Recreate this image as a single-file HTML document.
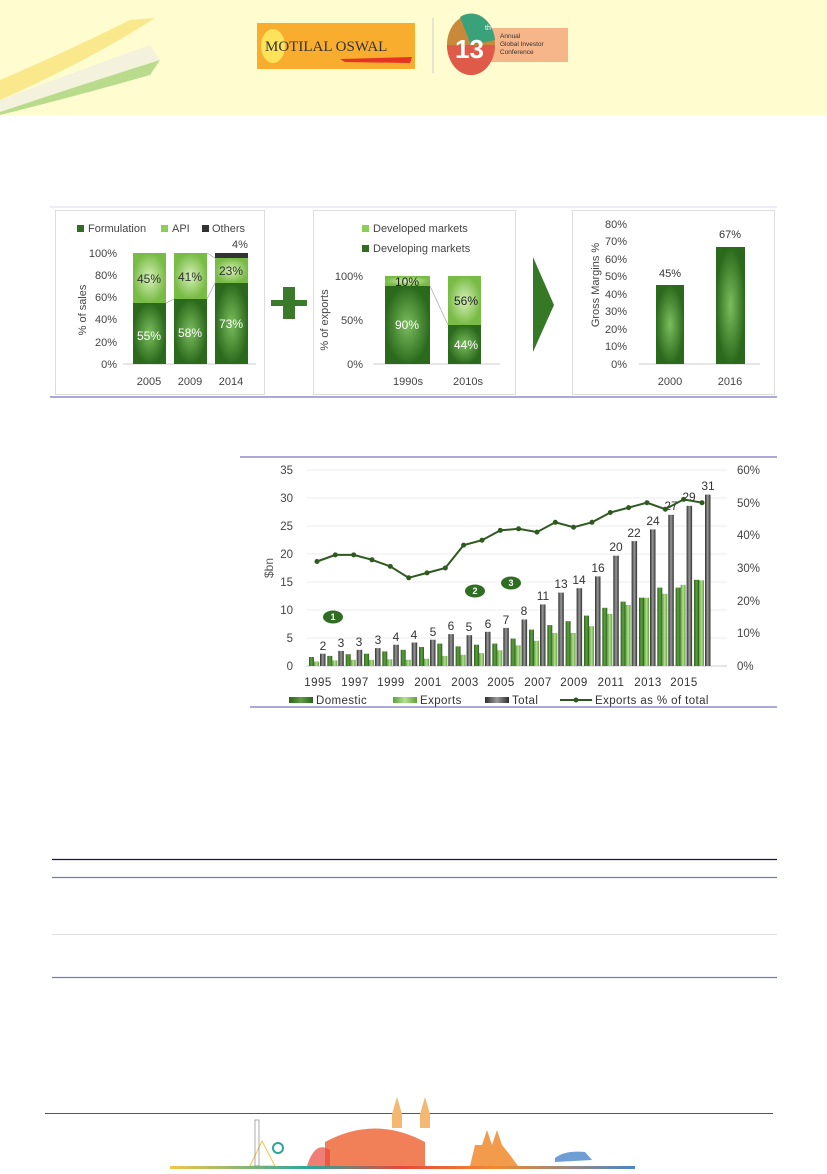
<!DOCTYPE html>
<html><head><meta charset="utf-8"><style>
html,body{margin:0;padding:0;background:#fff;}
body{width:827px;height:1169px;overflow:hidden;font-family:"Liberation Sans",sans-serif;}
svg text{font-family:"Liberation Sans",sans-serif;}
</style></head><body>
<svg width="827" height="1169" viewBox="0 0 827 1169" xmlns="http://www.w3.org/2000/svg">
<defs>
<linearGradient id="dg" x1="0" x2="1" y1="0" y2="0"><stop offset="0" stop-color="#2a6418"/><stop offset=".5" stop-color="#5f9e45"/><stop offset="1" stop-color="#2a6418"/></linearGradient>
<linearGradient id="eg" x1="0" x2="1" y1="0" y2="0"><stop offset="0" stop-color="#5ea336"/><stop offset=".5" stop-color="#b5df95"/><stop offset="1" stop-color="#5ea336"/></linearGradient>
<linearGradient id="tg" x1="0" x2="1" y1="0" y2="0"><stop offset="0" stop-color="#2e2e2e"/><stop offset=".5" stop-color="#9a9a9a"/><stop offset="1" stop-color="#2e2e2e"/></linearGradient>
<radialGradient id="rd"><stop offset="0" stop-color="#7bbd5e"/><stop offset="1" stop-color="#2b6a1c"/></radialGradient>
<radialGradient id="rl"><stop offset="0" stop-color="#d6f0b8"/><stop offset="1" stop-color="#78bb45"/></radialGradient>
<linearGradient id="hdr" x1="0" x2="1" y1="0" y2="1"><stop offset="0" stop-color="#f8d84a"/><stop offset=".5" stop-color="#fbf7dc"/><stop offset="1" stop-color="#8cc460"/></linearGradient>
<linearGradient id="city" x1="0" x2="1"><stop offset="0" stop-color="#f3c54a"/><stop offset=".3" stop-color="#2aa79a"/><stop offset=".5" stop-color="#e8483b"/><stop offset=".7" stop-color="#f08a2e"/><stop offset="1" stop-color="#4a86c8"/></linearGradient>
</defs>
<!-- header -->
<rect x="0" y="0" width="827" height="115" fill="#fffdd0"/>
<path d="M0 80 Q70 50 130 20 L155 18 Q90 60 0 100Z" fill="#f8e27a" opacity=".8"/>
<path d="M0 100 Q80 70 150 45 L160 60 Q80 85 0 112Z" fill="#f4f2dc"/>
<path d="M0 112 Q80 85 160 60 L150 75 Q80 95 0 115Z" fill="#a8d27a" opacity=".8"/>
<rect x="257" y="23" width="158" height="46" fill="#f9ad2e"/>
<ellipse cx="273" cy="46" rx="12" ry="17" fill="#fde35a"/>
<text x="265" y="51" font-size="15" font-family="Liberation Serif" fill="#333" style="font-family:'Liberation Serif',serif">MOTILAL OSWAL</text>
<path d="M340 59 L412 57 L410 63 L345 62Z" fill="#e53324"/>
<line x1="433" y1="18" x2="433" y2="73" stroke="#ccc"/>
<rect x="490" y="28" width="78" height="34" fill="#f7b58a"/>
<ellipse cx="471" cy="45" rx="24" ry="30" fill="#c88a3a"/>
<path d="M447 45 A24 30 0 0 0 495 45Z" fill="#e05a4a"/>
<path d="M460 17 A24 30 0 0 1 495 40 L471 45Z" fill="#3aa27a"/>
<text x="455" y="58" font-size="26" font-weight="bold" fill="#fff">13</text>
<text x="485" y="30" font-size="7" fill="#fff">th</text>
<text x="500" y="38" font-size="6.5" fill="#333">Annual</text>
<text x="500" y="46" font-size="6.5" fill="#333">Global Investor</text>
<text x="500" y="54" font-size="6.5" fill="#333">Conference</text>

<!-- top panels frame -->
<line x1="50" y1="207" x2="777" y2="207" stroke="#dcdaf0"/>
<line x1="50" y1="397" x2="777" y2="397" stroke="#7b73c4" stroke-width="1.2"/>
<rect x="55.5" y="210.5" width="209" height="184" fill="#fff" stroke="#ddd"/>
<rect x="313.5" y="210.5" width="202" height="184" fill="#fff" stroke="#ddd"/>
<rect x="572.5" y="210.5" width="202" height="184" fill="#fff" stroke="#ddd"/>

<!-- panel1 -->
<g font-size="11" fill="#444">
<rect x="77" y="225" width="7" height="7" fill="#2f6e22"/><text x="88" y="232">Formulation</text>
<rect x="161" y="225" width="7" height="7" fill="#8fcd5a"/><text x="172" y="232">API</text>
<rect x="202" y="225" width="7" height="7" fill="#333"/><text x="212" y="232">Others</text>
<text x="232" y="248" font-size="11">4%</text>
<g text-anchor="end"><text x="117" y="257">100%</text><text x="117" y="279">80%</text><text x="117" y="301">60%</text><text x="117" y="323">40%</text><text x="117" y="346">20%</text><text x="117" y="368">0%</text></g>
<text transform="translate(86,310) rotate(-90)" text-anchor="middle">% of sales</text>
<g text-anchor="middle"><text x="149" y="385">2005</text><text x="190" y="385">2009</text><text x="231" y="385">2014</text></g>
</g>
<line x1="123" y1="364" x2="256" y2="364" stroke="#ccc"/>
<rect x="133" y="253" width="33" height="50" fill="url(#rl)"/><rect x="133" y="303" width="33" height="61" fill="url(#rd)"/>
<rect x="174" y="253" width="33" height="46" fill="url(#rl)"/><rect x="174" y="299" width="33" height="65" fill="url(#rd)"/>
<rect x="215" y="253" width="33" height="5" fill="#333"/><rect x="215" y="258" width="33" height="25" fill="url(#rl)"/><rect x="215" y="283" width="33" height="81" fill="url(#rd)"/>
<path d="M166 303 L174 299 M207 299 L215 283 M207 253 L215 258" stroke="#999" stroke-width=".6"/>
<g font-size="12" text-anchor="middle"><text x="149" y="283" fill="#333">45%</text><text x="190" y="281" fill="#333">41%</text><text x="231" y="275" fill="#333">23%</text>
<text x="149" y="340" fill="#fff">55%</text><text x="190" y="337" fill="#fff">58%</text><text x="231" y="328" fill="#fff">73%</text></g>
<!-- plus -->
<path d="M283 287 h12 v13 h12 v6 h-12 v13 h-12 v-13 h-12 v-6 h12z" fill="#3a7a2a"/>

<!-- panel2 -->
<g font-size="11" fill="#444">
<rect x="362" y="225" width="7" height="7" fill="#8fcd5a"/><text x="373" y="232">Developed markets</text>
<rect x="362" y="245" width="7" height="7" fill="#2f6e22"/><text x="373" y="252">Developing markets</text>
<g text-anchor="end"><text x="363" y="280">100%</text><text x="363" y="324">50%</text><text x="363" y="368">0%</text></g>
<text transform="translate(328,320) rotate(-90)" text-anchor="middle">% of exports</text>
<g text-anchor="middle"><text x="408" y="385">1990s</text><text x="468" y="385">2010s</text></g>
</g>
<line x1="373" y1="364" x2="500" y2="364" stroke="#ccc"/>
<rect x="385" y="276" width="45" height="10" fill="url(#rl)"/><rect x="385" y="286" width="45" height="78" fill="url(#rd)"/>
<rect x="448" y="276" width="33" height="49" fill="url(#rl)"/><rect x="448" y="325" width="33" height="39" fill="url(#rd)"/>
<path d="M430 286 L448 325" stroke="#999" stroke-width=".6"/>
<g font-size="12" text-anchor="middle"><text x="407" y="286" fill="#222">10%</text><text x="407" y="329" fill="#fff">90%</text><text x="466" y="305" fill="#222">56%</text><text x="466" y="349" fill="#fff">44%</text></g>
<!-- arrow -->
<path d="M533 257 L554 305 L533 352Z" fill="#357826"/>

<!-- panel3 -->
<g font-size="11" fill="#444">
<g text-anchor="end"><text x="627" y="228">80%</text><text x="627" y="245">70%</text><text x="627" y="263">60%</text><text x="627" y="280">50%</text><text x="627" y="298">40%</text><text x="627" y="315">30%</text><text x="627" y="333">20%</text><text x="627" y="350">10%</text><text x="627" y="368">0%</text></g>
<text transform="translate(599,285) rotate(-90)" text-anchor="middle">Gross Margins %</text>
<g text-anchor="middle"><text x="670" y="385">2000</text><text x="730" y="385">2016</text></g>
<text x="670" y="277" text-anchor="middle" fill="#333">45%</text><text x="730" y="238" text-anchor="middle" fill="#333">67%</text>
</g>
<line x1="639" y1="364" x2="760" y2="364" stroke="#ccc"/>
<rect x="656" y="285" width="28" height="79" fill="url(#rd)"/>
<rect x="716" y="247" width="29" height="117" fill="url(#rd)"/>

<!-- chart 2 -->
<line x1="240" y1="457" x2="777" y2="457" stroke="#7b73c4" stroke-width="1.2"/>
<line x1="250" y1="707" x2="777" y2="707" stroke="#7b73c4" stroke-width="1.2"/>
<g stroke="#eee"><line x1="306" y1="470" x2="727" y2="470"/><line x1="306" y1="498" x2="727" y2="498"/><line x1="306" y1="526" x2="727" y2="526"/><line x1="306" y1="554" x2="727" y2="554"/><line x1="306" y1="582" x2="727" y2="582"/><line x1="306" y1="610" x2="727" y2="610"/><line x1="306" y1="638" x2="727" y2="638"/></g>
<line x1="306" y1="666" x2="727" y2="666" stroke="#ccc"/>
<g font-size="11.5" fill="#444" text-anchor="end"><text x="293" y="474">35</text><text x="293" y="502">30</text><text x="293" y="530">25</text><text x="293" y="558">20</text><text x="293" y="586">15</text><text x="293" y="614">10</text><text x="293" y="642">5</text><text x="293" y="670">0</text></g>
<g font-size="11.5" fill="#444"><text x="737" y="474">60%</text><text x="737" y="507">50%</text><text x="737" y="539">40%</text><text x="737" y="572">30%</text><text x="737" y="605">20%</text><text x="737" y="637">10%</text><text x="737" y="670">0%</text></g>
<text transform="translate(273,568) rotate(-90)" text-anchor="middle" font-size="12" fill="#555">$bn</text>
<g font-size="11.5" fill="#333" text-anchor="middle" letter-spacing=".5"><text x="318" y="686">1995</text><text x="355" y="686">1997</text><text x="391" y="686">1999</text><text x="428" y="686">2001</text><text x="465" y="686">2003</text><text x="501" y="686">2005</text><text x="538" y="686">2007</text><text x="574" y="686">2009</text><text x="611" y="686">2011</text><text x="648" y="686">2013</text><text x="684" y="686">2015</text></g>
<!-- domestic -->
<g fill="url(#dg)">
<rect x="309" y="657" width="5" height="9"/><rect x="327.3" y="655.9" width="5" height="10.1"/><rect x="345.7" y="654.2" width="5" height="11.8"/><rect x="364" y="653.7" width="5" height="12.3"/><rect x="382.3" y="651.4" width="5" height="14.6"/><rect x="400.7" y="649.8" width="5" height="16.2"/><rect x="419" y="647" width="5" height="19"/><rect x="437.3" y="643.6" width="5" height="22.4"/><rect x="455.6" y="646.4" width="5" height="19.6"/><rect x="474" y="644.7" width="5" height="21.3"/><rect x="492.3" y="643.6" width="5" height="22.4"/><rect x="510.6" y="638.6" width="5" height="27.4"/><rect x="529" y="629.6" width="5" height="36.4"/><rect x="547.3" y="625.1" width="5" height="40.9"/><rect x="565.6" y="621.2" width="5" height="44.8"/><rect x="584" y="615.6" width="5" height="50.4"/><rect x="602.3" y="607.8" width="5" height="58.2"/><rect x="620.6" y="601.6" width="5" height="64.4"/><rect x="639" y="597.7" width="5" height="68.3"/><rect x="657.3" y="587.6" width="5" height="78.4"/><rect x="675.6" y="587.6" width="5" height="78.4"/><rect x="694" y="579.8" width="5" height="86.2"/>
</g>
<g fill="url(#eg)">
<rect x="314" y="661.5" width="5" height="4.5"/><rect x="332.3" y="660.4" width="5" height="5.6"/><rect x="350.7" y="659.8" width="5" height="6.2"/><rect x="369" y="659.8" width="5" height="6.2"/><rect x="387.3" y="659.3" width="5" height="6.7"/><rect x="405.7" y="659.8" width="5" height="6.2"/><rect x="424" y="658.7" width="5" height="7.3"/><rect x="442.3" y="655.9" width="5" height="10.1"/><rect x="460.6" y="654.8" width="5" height="11.2"/><rect x="479" y="653.1" width="5" height="12.9"/><rect x="497.3" y="650.3" width="5" height="15.7"/><rect x="515.6" y="645.3" width="5" height="20.7"/><rect x="534" y="640.8" width="5" height="25.2"/><rect x="552.3" y="633" width="5" height="33"/><rect x="570.6" y="633" width="5" height="33"/><rect x="589" y="626.2" width="5" height="39.8"/><rect x="607.3" y="613.9" width="5" height="52.1"/><rect x="625.6" y="605" width="5" height="61"/><rect x="644" y="597.7" width="5" height="68.3"/><rect x="662.3" y="593.8" width="5" height="72.2"/><rect x="680.6" y="584.8" width="5" height="81.2"/><rect x="699" y="580.3" width="5" height="85.7"/>
</g>
<g fill="url(#tg)">
<rect x="320" y="653.7" width="5.5" height="12.3"/><rect x="338.3" y="650.9" width="5.5" height="15.1"/><rect x="356.7" y="649.8" width="5.5" height="16.2"/><rect x="375" y="648.1" width="5.5" height="17.9"/><rect x="393.3" y="644.7" width="5.5" height="21.3"/><rect x="411.7" y="642.5" width="5.5" height="23.5"/><rect x="430" y="639.7" width="5.5" height="26.3"/><rect x="448.3" y="634.1" width="5.5" height="31.9"/><rect x="466.6" y="635.2" width="5.5" height="30.8"/><rect x="485" y="631.8" width="5.5" height="34.2"/><rect x="503.3" y="627.9" width="5.5" height="38.1"/><rect x="521.6" y="619.5" width="5.5" height="46.5"/><rect x="540" y="604.4" width="5.5" height="61.6"/><rect x="558.3" y="592.6" width="5.5" height="73.4"/><rect x="576.6" y="588.2" width="5.5" height="77.8"/><rect x="595" y="576.4" width="5.5" height="89.6"/><rect x="613.3" y="555.7" width="5.5" height="110.3"/><rect x="631.6" y="541.1" width="5.5" height="124.9"/><rect x="650" y="529.4" width="5.5" height="136.6"/><rect x="668.3" y="514.8" width="5.5" height="151.2"/><rect x="686.6" y="505.8" width="5.5" height="160.2"/><rect x="705" y="494.6" width="5.5" height="171.4"/>
</g>
<g font-size="12" fill="#333" text-anchor="middle">
<text x="323" y="650">2</text><text x="341" y="647">3</text><text x="359" y="646">3</text><text x="378" y="644">3</text><text x="396" y="641">4</text><text x="414" y="639">4</text><text x="433" y="636">5</text><text x="451" y="630">6</text><text x="469" y="631">5</text><text x="488" y="628">6</text><text x="506" y="624">7</text><text x="524" y="615">8</text><text x="543" y="600">11</text><text x="561" y="588">13</text><text x="579" y="584">14</text><text x="598" y="572">16</text><text x="616" y="551">20</text><text x="634" y="537">22</text><text x="653" y="525">24</text><text x="671" y="510">27</text><text x="689" y="501">29</text><text x="708" y="490">31</text>
</g>
<polyline fill="none" stroke="#2d5a1e" stroke-width="2" points="317,561.5 335.3,554.9 353.7,554.9 372,559.8 390.3,566.4 408.7,577.8 427,572.9 445.3,568 463.6,545.1 482,540.2 500.3,530.4 518.6,528.8 537,532.1 555.3,522.3 573.6,527.2 592,522.3 610.3,512.5 628.6,507.6 647,502.7 665.3,509.2 683.6,499.4 702,502.7"/>
<g fill="#2d5a1e"><circle cx="317" cy="561.5" r="2.5"/><circle cx="335.3" cy="554.9" r="2.5"/><circle cx="353.7" cy="554.9" r="2.5"/><circle cx="372" cy="559.8" r="2.5"/><circle cx="390.3" cy="566.4" r="2.5"/><circle cx="408.7" cy="577.8" r="2.5"/><circle cx="427" cy="572.9" r="2.5"/><circle cx="445.3" cy="568" r="2.5"/><circle cx="463.6" cy="545.1" r="2.5"/><circle cx="482" cy="540.2" r="2.5"/><circle cx="500.3" cy="530.4" r="2.5"/><circle cx="518.6" cy="528.8" r="2.5"/><circle cx="537" cy="532.1" r="2.5"/><circle cx="555.3" cy="522.3" r="2.5"/><circle cx="573.6" cy="527.2" r="2.5"/><circle cx="592" cy="522.3" r="2.5"/><circle cx="610.3" cy="512.5" r="2.5"/><circle cx="628.6" cy="507.6" r="2.5"/><circle cx="647" cy="502.7" r="2.5"/><circle cx="665.3" cy="509.2" r="2.5"/><circle cx="683.6" cy="499.4" r="2.5"/><circle cx="702" cy="502.7" r="2.5"/></g>
<!-- badges -->
<g font-size="9" font-weight="bold" fill="#fff" text-anchor="middle">
<ellipse cx="333" cy="617" rx="10" ry="6.5" fill="#2f6e22"/><text x="333" y="620">1</text>
<ellipse cx="475" cy="591" rx="10" ry="6.5" fill="#2f6e22"/><text x="475" y="594">2</text>
<ellipse cx="511" cy="583" rx="10" ry="6.5" fill="#2f6e22"/><text x="511" y="586">3</text>
</g>
<!-- legend -->
<g font-size="11.5" fill="#333" letter-spacing=".4">
<rect x="289" y="697" width="24" height="6" fill="url(#dg)"/><text x="316" y="704">Domestic</text>
<rect x="393" y="697" width="24" height="6" fill="url(#eg)"/><text x="420" y="704">Exports</text>
<rect x="485" y="697" width="24" height="6" fill="url(#tg)"/><text x="512" y="704">Total</text>
<line x1="560" y1="700" x2="592" y2="700" stroke="#2d5a1e" stroke-width="2"/><circle cx="576" cy="700" r="2.5" fill="#2d5a1e"/><text x="595" y="704">Exports as % of total</text>
</g>

<!-- table lines -->
<line x1="52" y1="859.5" x2="777" y2="859.5" stroke="#1a1060" stroke-width="1.2"/>
<line x1="52" y1="877.5" x2="777" y2="877.5" stroke="#7b73c4" stroke-width="1.2"/>
<line x1="52" y1="934.5" x2="777" y2="934.5" stroke="#e2e2e2" stroke-width="1.2"/>
<line x1="52" y1="977.5" x2="777" y2="977.5" stroke="#7b73c4" stroke-width="1.2"/>

<!-- footer -->
<line x1="45" y1="1113.5" x2="773" y2="1113.5" stroke="#555" stroke-width="1"/>
<path d="M250 1166 L262 1141 L275 1166Z" fill="none" stroke="#f3c54a"/>
<rect x="255" y="1120" width="4" height="46" fill="none" stroke="#777" stroke-width=".6"/>
<circle cx="278" cy="1148" r="5" fill="none" stroke="#2aa79a" stroke-width="2"/>
<path d="M325 1142 Q375 1115 425 1142 L425 1166 L325 1166Z" fill="#ef6a3c" opacity=".85"/>
<path d="M392 1114 L397 1097 L402 1114 L402 1128 L392 1128Z" fill="#f5b872"/>
<path d="M420 1114 L425 1097 L430 1114 L430 1128 L420 1128Z" fill="#f5b872"/>
<path d="M307 1166 Q315 1140 330 1150 L330 1166Z" fill="#e8483b" opacity=".7"/>
<path d="M470 1166 L475 1145 L482 1145 L487 1130 L492 1145 L497 1130 L502 1145 L510 1155 L518 1166Z" fill="#f08a2e" opacity=".85"/>
<path d="M555 1158 Q565 1150 585 1152 L592 1160 L555 1162Z" fill="#4a86c8" opacity=".8"/>
<rect x="170" y="1166" width="465" height="3" fill="url(#city)"/>
</svg>
</body></html>
